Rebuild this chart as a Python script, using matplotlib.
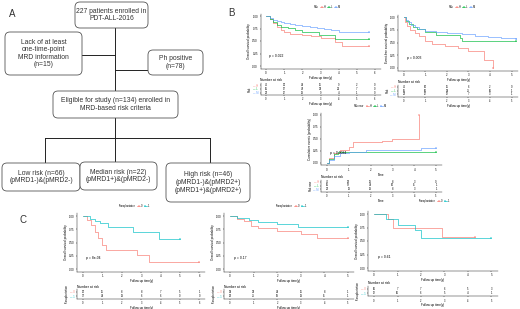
import numpy as np
import matplotlib
matplotlib.use("Agg")
import matplotlib.pyplot as plt
from matplotlib.patches import FancyBboxPatch
from matplotlib.lines import Line2D

plt.rcParams['font.family'] = ['Liberation Sans', 'DejaVu Sans']

# ---------------- data ----------------
# Panel B1: overall survival by risk
b1_H_t = [0, 0.2, 0.4, 0.6, 0.8, 1.0, 1.3, 2.0, 2.5, 3.0, 3.8, 4.2, 5.65]
b1_H_s = [1, 0.94, 0.86, 0.79, 0.73, 0.68, 0.65, 0.63, 0.60, 0.57, 0.49, 0.40, 0.40]
b1_L_t = [0, 0.2, 0.4, 0.6, 0.8, 1.2, 1.6, 2.0, 2.9, 3.8, 5.65]
b1_L_s = [1, 0.95, 0.88, 0.82, 0.78, 0.76, 0.72, 0.68, 0.62, 0.54, 0.54]
b1_M_t = [0, 0.2, 0.4, 0.6, 0.8, 1.0, 1.3, 1.6, 2.0, 2.4, 2.8, 3.2, 3.6, 4.0, 5.65]
b1_M_s = [1, 0.97, 0.93, 0.90, 0.88, 0.86, 0.84, 0.82, 0.80, 0.78, 0.76, 0.74, 0.72, 0.69, 0.69]
b1_risk_H = [46, 30, 24, 16, 9, 2, 0]
b1_risk_L = [66, 57, 45, 33, 21, 7, 0]
b1_risk_M = [22, 17, 13, 9, 4, 1, 0]

# Panel B2: event-free survival by risk
b2_H_t = [0, 0.05, 0.15, 0.3, 0.5, 0.7, 1.0, 1.3, 1.9, 2.5, 3.0, 3.7, 4.15]
b2_H_s = [1, 0.90, 0.82, 0.75, 0.69, 0.62, 0.52, 0.48, 0.44, 0.40, 0.34, 0.15, 0.0]
b2_L_t = [0, 0.1, 0.25, 0.4, 0.6, 1.0, 1.5, 2.6, 2.7, 5.2]
b2_L_s = [1, 0.93, 0.87, 0.81, 0.77, 0.70, 0.65, 0.59, 0.52, 0.52]
b2_M_t = [0, 0.1, 0.2, 0.35, 0.5, 0.7, 1.0, 1.5, 2.0, 2.7, 3.3, 3.9, 4.5, 5.2]
b2_M_s = [1, 0.95, 0.90, 0.85, 0.80, 0.77, 0.73, 0.71, 0.69, 0.66, 0.63, 0.61, 0.58, 0.56]
b2_risk_H = [46, 26, 16, 6, 2, 0]
b2_risk_L = [66, 50, 38, 25, 10, 1]
b2_risk_M = [22, 17, 12, 7, 3, 1]

# Panel B3: cumulative events by risk
b3_H_t = [0, 0.1, 0.3, 0.6, 1.0, 1.2, 2.5, 3.0, 4.2]
b3_H_s = [0, 0.10, 0.20, 0.27, 0.33, 0.43, 0.46, 0.50, 1.0]
b3_L_t = [0, 0.1, 0.3, 0.5, 1.0, 5.0]
b3_L_s = [0, 0.08, 0.18, 0.22, 0.23, 0.23]
b3_M_t = [0, 0.1, 0.3, 0.6, 1.0, 1.8, 4.3, 5.0]
b3_M_s = [0, 0.06, 0.14, 0.20, 0.23, 0.27, 0.31, 0.31]
b3_risk_H = [46, 28, 18, 8, 3, 0]
b3_risk_L = [66, 52, 40, 26, 11, 1]
b3_risk_M = [22, 18, 13, 8, 3, 1]

# Panel C: overall survival by transplantation
c1_0_t = [0, 0.2, 0.4, 0.6, 0.75, 1.0, 1.2, 2.8, 3.4, 6.0]
c1_0_s = [1, 0.93, 0.83, 0.70, 0.58, 0.45, 0.36, 0.26, 0.13, 0.13]
c1_1_t = [0, 0.35, 0.6, 0.9, 1.3, 2.6, 3.9, 5.0]
c1_1_s = [1, 0.95, 0.90, 0.86, 0.79, 0.70, 0.57, 0.57]
c1_risk_0 = [20, 16, 8, 8, 7, 5, 1]
c1_risk_1 = [37, 24, 13, 6, 6, 0, 0]

c2_0_t = [0, 0.3, 0.6, 0.9, 1.2, 2.0, 3.0, 3.7, 5.0]
c2_0_s = [1, 0.95, 0.90, 0.82, 0.77, 0.72, 0.66, 0.58, 0.58]
c2_1_t = [0, 0.3, 0.8, 1.2, 2.0, 2.9, 5.0]
c2_1_s = [1, 0.97, 0.93, 0.89, 0.85, 0.79, 0.79]
c2_risk_0 = [39, 33, 24, 16, 8, 1]
c2_risk_1 = [28, 25, 19, 13, 11, 1]

c3_0_t = [0, 0.6, 0.8, 2.9, 4.3]
c3_0_s = [1, 0.90, 0.75, 0.58, 0.58]
c3_1_t = [0, 0.5, 1.0, 1.75, 2.0, 5.0]
c3_1_s = [1, 0.90, 0.79, 0.70, 0.55, 0.55]
c3_risk_0 = [10, 7, 7, 6, 5, 3]
c3_risk_1 = [12, 10, 6, 5, 4, 1]

risk_levels = ["H", "L", "M"]
tx_levels = ["0", "1"]
RED, GREEN, BLUE, TEAL = "#F8766D", "#00BA38", "#619CFF", "#00BFC4"

# ---------------- figure ----------------
W, H = 520, 309
fig = plt.figure(figsize=(W / 100, H / 100), dpi=100)
fig.patch.set_facecolor("white")

ov = fig.add_axes([0, 0, 1, 1])
ov.set_xlim(0, W)
ov.set_ylim(H, 0)
ov.axis("off")


def pax(l, t, r, b):
    return fig.add_axes([l / W, 1 - b / H, (r - l) / W, (b - t) / H])


# ---------- Panel A flowchart ----------
FS = 4.9
boxes = [
    ((75, 2, 148, 28), "227 patients enrolled in\nPDT-ALL-2016"),
    ((5, 32, 82, 75), "Lack of at least\none-time-point\nMRD information\n(n=15)"),
    ((148, 50, 203, 75), "Ph positive\n(n=78)"),
    ((53, 91, 178, 118), "Eligible for study (n=134) enrolled in\nMRD-based risk criteria"),
    ((2, 163, 80, 191), "Low risk (n=66)\n(pMRD1-)&(pMRD2-)"),
    ((80, 162, 157, 190), "Median risk (n=22)\n(pMRD1+)&(pMRD2-)"),
    ((166, 163, 250, 202), "High risk (n=46)\n(pMRD1-)&(pMRD2+)\n(pMRD1+)&(pMRD2+)"),
]
for (x0, y0, x1, y1), txt in boxes:
    p = FancyBboxPatch((x0, y0), x1 - x0, y1 - y0,
                       boxstyle="round,pad=0,rounding_size=5",
                       fc="white", ec="#555555", lw=0.6, zorder=3)
    ov.add_patch(p)
    ov.text((x0 + x1) / 2, (y0 + y1) / 2, txt, ha="center", va="center",
            fontsize=FS, color="#333333", linespacing=1.1, zorder=4)

lines = [
    ((115, 115), (28, 91)), ((115, 115), (118, 138)),
    ((82, 115), (55, 55)), ((115, 148), (70, 70)),
    ((45, 210), (138, 138)),
    ((45, 45), (138, 163)), ((115, 115), (138, 162)), ((210, 210), (138, 163)),
]
for xs, ys in lines:
    ov.plot(xs, ys, color="#222222", lw=0.7, zorder=2)

for lab, (x, y) in {"A": (12, 14), "B": (231, 13), "C": (23, 220)}.items():
    ov.text(x, y, lab, fontsize=7, color="#333333", ha="center", va="center")


# ---------- KM helper ----------
def km_panel(main_box, tab_box, curves, xlim, xticks, ylabel, xlabel, ptext,
             pxy, leg_title, leg_xy, tab_title, tab_rows):
    ax = pax(*main_box)
    for t, s, c in curves:
        ax.step(t, s, where="post", color=c, lw=0.45)
        ax.plot(t[-1], s[-1], marker="+", color=c, ms=1.5, mew=0.3)
    ax.set_xlim(*xlim)
    ax.set_ylim(-0.05, 1.05)
    ax.set_xticks(xticks)
    ax.set_yticks([0, 0.25, 0.5, 0.75, 1.0])
    ax.set_yticklabels(["0.00", "0.25", "0.50", "0.75", "1.00"])
    for sp in ["top", "right"]:
        ax.spines[sp].set_visible(False)
    for sp in ["left", "bottom"]:
        ax.spines[sp].set_linewidth(0.3)
    ax.tick_params(labelsize=2, length=1, width=0.3, pad=0.8)
    ax.set_ylabel(ylabel, fontsize=2.2, labelpad=0.8)
    ax.set_xlabel(xlabel, fontsize=2.2, labelpad=0.8)
    ax.text(pxy[0], pxy[1], ptext, fontsize=2.4, ha="left", va="center")
    ax.patch.set_alpha(0)

    handles = [Line2D([], [], ls="none")] + [
        Line2D([], [], color=c, lw=0.45, marker="+", ms=1.5, mew=0.3)
        for (_, _, c) in curves]
    labels = [leg_title] + [lab for lab, _ in tab_rows]
    fig.legend(handles, labels, loc="center",
               bbox_to_anchor=(leg_xy[0] / W, 1 - leg_xy[1] / H),
               ncol=len(handles), fontsize=1.8, frameon=False,
               handlelength=1.2, handletextpad=0.3, columnspacing=0.6,
               borderpad=0)

    at = pax(*tab_box)
    n = len(tab_rows)
    for i, (lab, vals) in enumerate(tab_rows):
        y = n - i
        for j, v in enumerate(vals):
            at.text(xticks[j], y, str(v), fontsize=1.9, ha="center", va="center")
    at.set_xlim(*xlim)
    at.set_ylim(0.3, n + 0.7)
    at.set_xticks(xticks)
    at.set_yticks([n - i for i in range(n)])
    at.set_yticklabels(["\u2014 " + lab for lab, _ in tab_rows])
    for i, (lab, _) in enumerate(tab_rows):
        at.get_yticklabels()[i].set_color(curves[i][2])
    for sp in ["top", "right"]:
        at.spines[sp].set_visible(False)
    for sp in ["left", "bottom"]:
        at.spines[sp].set_linewidth(0.3)
    at.tick_params(labelsize=1.8, length=1, width=0.3, pad=0.8)
    at.set_ylabel(tab_title, fontsize=2.0, labelpad=0.6)
    at.set_xlabel(xlabel, fontsize=2.2, labelpad=0.6)
    at.text(0, 1.05, "Number at risk", transform=at.transAxes,
            fontsize=2.4, ha="left", va="bottom")
    at.patch.set_alpha(0)
    return ax


FU = "Follow up time(y)"

km_panel((260.5, 13.5, 380.5, 68.5), (260.5, 83, 380.5, 95),
         [(b1_H_t, b1_H_s, RED), (b1_L_t, b1_L_s, GREEN), (b1_M_t, b1_M_s, BLUE)],
         (-0.3, 6.3), list(range(7)), "Overall survival probability", FU,
         "p = 0.022", (0.15, 0.2), "Risk", (325, 7), "Risk",
         [("H", b1_risk_H), ("L", b1_risk_L), ("M", b1_risk_M)])

km_panel((398.3, 14.5, 518, 70.5), (398.3, 84.5, 518, 96.5),
         [(b2_H_t, b2_H_s, RED), (b2_L_t, b2_L_s, GREEN), (b2_M_t, b2_M_s, BLUE)],
         (-0.26, 5.3), list(range(6)), "Event-free survival probability", FU,
         "p = 0.003", (0.15, 0.2), "Risk", (460, 7), "Risk",
         [("H", b2_risk_H), ("L", b2_risk_L), ("M", b2_risk_M)])

km_panel((321.3, 112.6, 441.7, 165.4), (321.3, 179.5, 441.7, 191.5),
         [(b3_H_t, b3_H_s, RED), (b3_L_t, b3_L_s, GREEN), (b3_M_t, b3_M_s, BLUE)],
         (-0.26, 5.26), list(range(6)), "Cumulative events (probability)", "Time",
         "p = 0.0084", (0.15, 0.2), "Risk.new", (368, 106), "Risk.new",
         [("H", b3_risk_H), ("L", b3_risk_L), ("M", b3_risk_M)])

km_panel((77.2, 213.4, 205.2, 271.7), (77.2, 289, 205.2, 299),
         [(c1_0_t, c1_0_s, RED), (c1_1_t, c1_1_s, TEAL)],
         (-0.3, 6.3), list(range(7)), "Overall survival probability", FU,
         "p = 8e-04", (0.15, 0.2), "Transplantation", (132, 206), "Transplantation",
         [("0", c1_risk_0), ("1", c1_risk_1)])

km_panel((223.9, 213.4, 354.1, 271.7), (223.9, 289, 354.1, 299),
         [(c2_0_t, c2_0_s, RED), (c2_1_t, c2_1_s, TEAL)],
         (-0.26, 5.26), list(range(6)), "Overall survival probability", FU,
         "p = 0.17", (0.15, 0.2), "Transplantation", (289, 206), "Transplantation",
         [("0", c2_risk_0), ("1", c2_risk_1)])

km_panel((367.9, 211.3, 497.6, 270.7), (367.9, 286, 497.6, 296),
         [(c3_0_t, c3_0_s, RED), (c3_1_t, c3_1_s, TEAL)],
         (-0.26, 5.26), list(range(6)), "Overall survival probability", FU,
         "p = 0.61", (0.15, 0.2), "Transplantation", (432, 201), "Transplantation",
         [("0", c3_risk_0), ("1", c3_risk_1)])

fig.savefig("out.png", dpi=100, facecolor="white")
